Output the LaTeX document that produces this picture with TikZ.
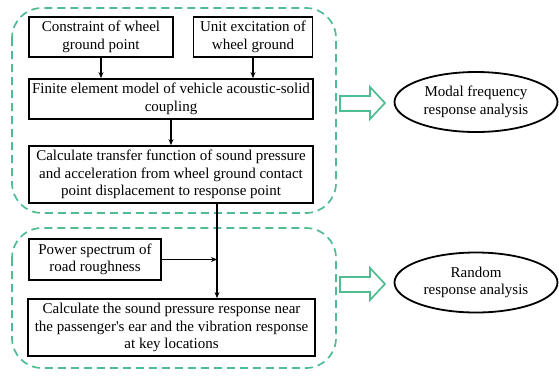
\documentclass[tikz,border=0pt]{standalone}
\usepackage{fontspec}
\setmainfont{Liberation Serif}
\usetikzlibrary{arrows.meta,shapes.geometric}
\definecolor{grn}{RGB}{80,188,145}
\begin{document}
\begin{tikzpicture}[x=1pt,y=-1pt,
  font=\fontsize{15}{17.4}\selectfont,
  box/.style={draw,line width=1.8pt,align=center,inner sep=1pt,minimum height=40pt},
  oval/.style={draw,ellipse,line width=1.8pt,align=center,minimum width=163pt,minimum height=60pt,inner sep=0pt},
  arr/.style={line width=1.5pt,-{Stealth[length=6pt,width=5pt]}},
  grp/.style={draw=grn,line width=1.7pt,dash pattern=on 8pt off 5pt,rounded corners=30pt},
  hollow/.style={draw=grn,line width=1.7pt,fill=white}]
\useasboundingbox (0,0) rectangle (559,378);
\draw[grp] (12,8) rectangle (336,213);
\draw[grp] (12,228) rectangle (336,368);
\node[box,minimum width=144pt] (b1) at (101,37) {Constraint of wheel\\ground point};
\node[box,minimum width=119pt] (b2) at (253,37) {Unit excitation of\\wheel ground};
\node[box,minimum width=284pt] (b3) at (171,99) {Finite element model of vehicle acoustic-solid\\coupling};
\node[box,minimum width=284pt,minimum height=57pt] (b4) at (171,174.5) {Calculate transfer function of sound pressure\\and acceleration from wheel ground contact\\point displacement to response point};
\node[box,minimum width=132pt,minimum height=41pt] (b5) at (95,259.5) {Power spectrum of\\road roughness};
\node[box,minimum width=287pt,minimum height=57pt] (b6) at (171.5,327.5) {Calculate the sound pressure response near\\the passenger\textquotesingle s ear and the vibration response\\at key locations};
\coordinate (vx) at (217,0);
\draw[arr] (b1.south) -- (b1.south |- b3.north);
\draw[arr] (b2.south) -- (b2.south |- b3.north);
\draw[arr] (b3.south) -- (b3.south |- b4.north);
\draw[arr] (b4.south -| vx) -- (b6.north -| vx);
\draw[arr] (b5.east) -- (b5.east -| vx);
\node[oval] (e1) at (476,102) {Modal frequency\\response analysis};
\node[oval] (e2) at (476,282.5) {Random\\response analysis};
\draw[hollow] (340,96) -- (370,96) -- (370,87) -- (385,103) -- (370,119) -- (370,111) -- (340,111) -- cycle;
\draw[hollow] (340,277) -- (370,277) -- (370,268) -- (385,284) -- (370,300) -- (370,292) -- (340,292) -- cycle;
\end{tikzpicture}
\end{document}
